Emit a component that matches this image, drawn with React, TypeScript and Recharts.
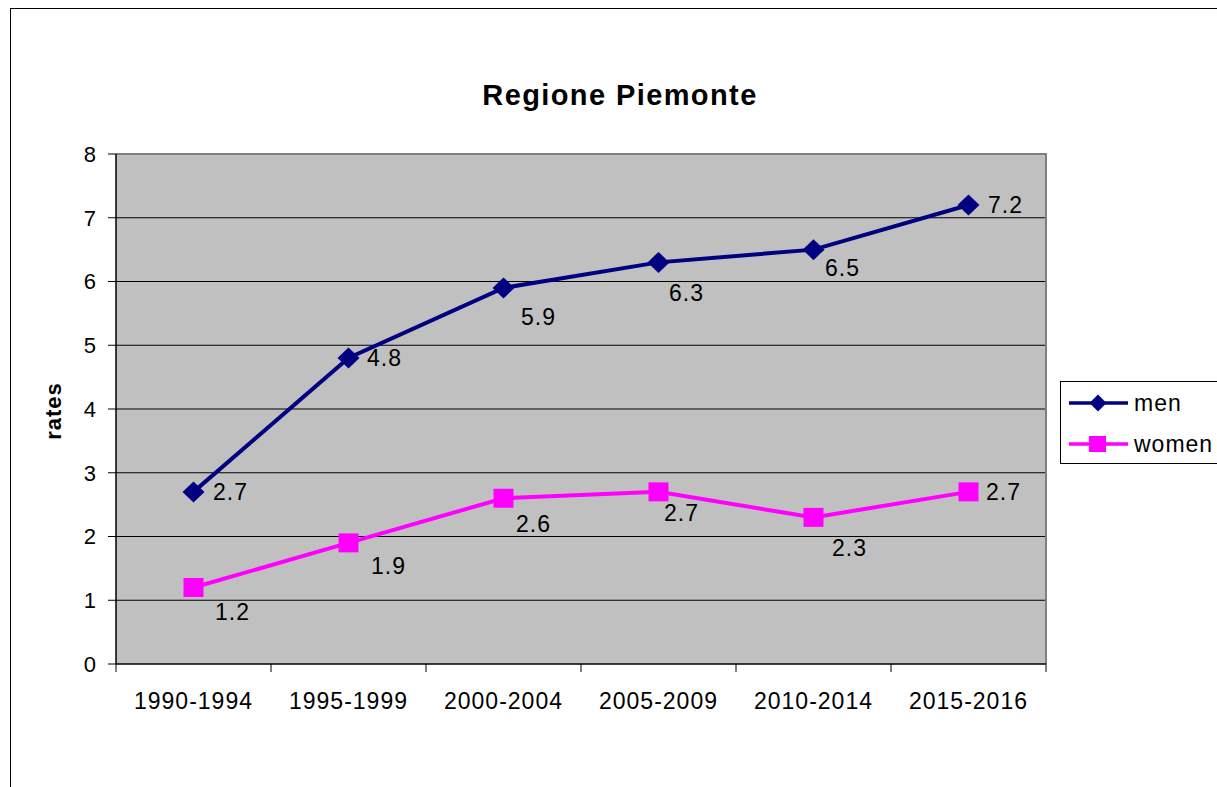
import { LineChart, Line, XAxis, YAxis, CartesianGrid, LabelList, ReferenceArea } from "recharts"

const categories = ["1990-1994", "1995-1999", "2000-2004", "2005-2009", "2010-2014", "2015-2016"]
const menRates = [2.7, 4.8, 5.9, 6.3, 6.5, 7.2]
const womenRates = [1.2, 1.9, 2.6, 2.7, 2.3, 2.7]
const yTicks = [0, 1, 2, 3, 4, 5, 6, 7, 8]

// label placement (dx, dy from the point), the way Excel scattered them
const menLabelOffsets = [[37, 0], [36, 0], [35, 29], [28, 31], [29, 18], [37, 0]]
const womenLabelOffsets = [[39, 24], [40, 23], [30, 26], [23, 21], [36, 31], [35, 0]]

const FONT = "'Liberation Sans', Arial, sans-serif"
const MEN = "#000080"
const WOMEN = "#FF00FF"

const data = categories.map((cat, i) => ({ cat, men: menRates[i], women: womenRates[i] }))

function Diamond(p: any) {
  const { cx, cy, index } = p
  if (cx == null || cy == null) return <g key={index} />
  return <path key={index} d={`M${cx},${cy - 10.5} L${cx + 11},${cy} L${cx},${cy + 10.5} L${cx - 11},${cy} Z`} fill={MEN} stroke="none" />
}

function Square(p: any) {
  const { cx, cy, index } = p
  if (cx == null || cy == null) return <g key={index} />
  return <rect key={index} x={cx - 10} y={cy - 9.5} width={20} height={19} fill={WOMEN} stroke="none" />
}

function pointLabel(p: any, offsets: number[][]) {
  const { x, y, value, index } = p
  const [dx, dy] = offsets[index] ?? [30, 0]
  return (
    <text
      key={index}
      x={x + dx}
      y={y + dy}
      textAnchor="middle"
      dominantBaseline="central"
      fontFamily={FONT}
      fontSize={23}
      letterSpacing={1}
      fill="#000"
    >
      {Number(value).toFixed(1)}
    </text>
  )
}

// Excel puts the tick marks between categories, labels in the middle
function CategoryTick(p: any) {
  const { x, y, payload, index, visibleTicksCount } = p
  const half = payload?.offset ?? 0
  const last = index === visibleTicksCount - 1
  return (
    <g>
      {half > 0 && <line x1={x - half} x2={x - half} y1={y} y2={y + 8} stroke="#000" strokeWidth={1} />}
      {half > 0 && last && <line x1={x + half} x2={x + half} y1={y} y2={y + 8} stroke="#000" strokeWidth={1} />}
      <text x={x} y={y + 29} dy="0.71em" textAnchor="middle" fontFamily={FONT} fontSize={23} letterSpacing={1} fill="#000">
        {payload.value}
      </text>
    </g>
  )
}

function RatesLabel(p: any) {
  const vb = p.viewBox
  const cx = vb.x - 3
  const cy = vb.y + vb.height / 2 + 2
  return (
    <text
      x={cx}
      y={cy}
      transform={`rotate(-90 ${cx} ${cy})`}
      textAnchor="middle"
      dominantBaseline="central"
      fontFamily={FONT}
      fontSize={22}
      fontWeight="bold"
      letterSpacing={1}
      fill="#000"
    >
      rates
    </text>
  )
}

function LegendIcon({ color, shape }: { color: string; shape: "diamond" | "square" }) {
  return (
    <svg width={62} height={22} style={{ display: "block" }}>
      <line x1={1} y1={11} x2={60} y2={11} stroke={color} strokeWidth={3.5} />
      {shape === "diamond" ? (
        <path d="M30,2.5 L38.5,11 L30,19.5 L21.5,11 Z" fill={color} />
      ) : (
        <rect x={21} y={3} width={17} height={16} fill={color} />
      )}
    </svg>
  )
}

export default function App() {
  return (
    <div style={{ position: "absolute", left: 0, top: 0, width: 1217, height: 787, overflow: "hidden", background: "#fff", fontFamily: FONT }}>
      <div style={{ position: "absolute", left: 10, top: 8, width: 1400, height: 1000, border: "1px solid #000", boxSizing: "border-box" }} />

      <div style={{ position: "absolute", left: 0, top: 81, width: 1240, textAlign: "center", fontSize: 29, lineHeight: "29px", fontWeight: "bold", letterSpacing: 1.4, color: "#000" }}>
        Regione Piemonte
      </div>

      <div style={{ position: "absolute", left: 0, top: 0 }}>
        <LineChart width={1217} height={787} data={data} margin={{ top: 154, right: 171, bottom: 93, left: 56 }}>
          <CartesianGrid fill="#C0C0C0" fillOpacity={1} stroke="#000" strokeWidth={1} vertical={false} horizontalValues={[1, 2, 3, 4, 5, 6, 7]} />
          {/* grey frame on the top and right sides of the plot area only */}
          <ReferenceArea
            x1={categories[0]}
            x2={categories[categories.length - 1]}
            y1={0}
            y2={8}
            fill="none"
            stroke="#808080"
            strokeWidth={2}
            strokeDasharray="1440 2000"
          />
          <XAxis
            dataKey="cat"
            scale="band"
            height={30}
            axisLine={{ stroke: "#000", strokeWidth: 1.5 }}
            tickLine={false}
            tickSize={0}
            tickMargin={0}
            interval={0}
            tick={<CategoryTick />}
          />
          <YAxis
            domain={[0, 8]}
            ticks={yTicks}
            width={60}
            axisLine={{ stroke: "#000", strokeWidth: 1.5 }}
            tickLine={{ stroke: "#000", strokeWidth: 1 }}
            tickSize={8}
            tickMargin={12}
            tick={{ fill: "#000", fontSize: 22, fontFamily: FONT }}
            label={<RatesLabel />}
          />
          <Line
            dataKey="men"
            stroke={MEN}
            strokeWidth={4}
            dot={Diamond}
            activeDot={false}
            isAnimationActive={false}
          >
            <LabelList dataKey="men" content={(p: any) => pointLabel(p, menLabelOffsets)} />
          </Line>
          <Line
            dataKey="women"
            stroke={WOMEN}
            strokeWidth={4}
            dot={Square}
            activeDot={false}
            isAnimationActive={false}
          >
            <LabelList dataKey="women" content={(p: any) => pointLabel(p, womenLabelOffsets)} />
          </Line>
        </LineChart>
      </div>

      <div style={{ position: "absolute", left: 1060, top: 381, width: 200, height: 83, border: "1px solid #000", boxSizing: "border-box", background: "#fff" }}>
        <div style={{ position: "absolute", left: 7, top: 10, display: "flex", alignItems: "center" }}>
          <LegendIcon color={MEN} shape="diamond" />
          <span style={{ marginLeft: 4, fontSize: 23, letterSpacing: 1, lineHeight: "22px" }}>men</span>
        </div>
        <div style={{ position: "absolute", left: 7, top: 51, display: "flex", alignItems: "center" }}>
          <LegendIcon color={WOMEN} shape="square" />
          <span style={{ marginLeft: 4, fontSize: 23, letterSpacing: 1, lineHeight: "22px" }}>women</span>
        </div>
      </div>
    </div>
  )
}
